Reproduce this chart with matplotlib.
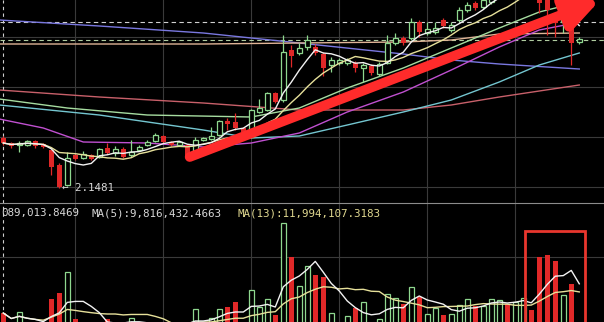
import numpy as np
import pandas as pd
import matplotlib
matplotlib.use("Agg")
import matplotlib.pyplot as plt
from matplotlib.patches import Rectangle

# candles (price), one per bar
opens = [2.65, 2.60, 2.58, 2.58, 2.62, 2.59, 2.53, 2.38, 2.18, 2.48,
         2.45, 2.48, 2.46, 2.55, 2.50, 2.54, 2.48, 2.53, 2.58, 2.62,
         2.67, 2.61, 2.58, 2.58, 2.46, 2.63, 2.64, 2.68, 2.82, 2.81,
         2.75, 2.66, 2.91, 2.93, 3.10, 3.03, 3.53, 3.50, 3.56, 3.56,
         3.49, 3.38, 3.40, 3.40, 3.40, 3.35, 3.37, 3.29, 3.40, 3.60,
         3.65, 3.65, 3.81, 3.70, 3.71, 3.83, 3.73, 3.83, 3.93, 4.00,
         3.96, 4.01, 4.09, 4.17, 4.15, 4.23, 4.29, 4.23, 4.09, 3.85,
         3.81, 3.83, 3.61]
highs = [2.67, 2.61, 2.62, 2.63, 2.63, 2.60, 2.54, 2.40, 2.51, 2.50,
         2.52, 2.49, 2.55, 2.60, 2.57, 2.56, 2.63, 2.58, 2.63, 2.70,
         2.68, 2.62, 2.62, 2.59, 2.66, 2.66, 2.76, 2.83, 2.85, 2.90,
         2.76, 2.94, 3.04, 3.11, 3.11, 3.68, 3.58, 3.60, 3.68, 3.59,
         3.51, 3.46, 3.45, 3.45, 3.42, 3.40, 3.39, 3.41, 3.68, 3.70,
         3.67, 3.85, 3.83, 3.81, 3.81, 3.85, 3.81, 3.96, 4.01, 4.02,
         4.06, 4.13, 4.20, 4.19, 4.27, 4.33, 4.31, 4.27, 4.11, 3.90,
         3.98, 3.91, 3.66]
lows = [2.58, 2.55, 2.51, 2.57, 2.55, 2.55, 2.28, 2.1481, 2.17, 2.43,
        2.44, 2.43, 2.45, 2.49, 2.47, 2.45, 2.46, 2.52, 2.57, 2.61,
        2.60, 2.57, 2.57, 2.45, 2.45, 2.62, 2.63, 2.67, 2.73, 2.73,
        2.70, 2.65, 2.90, 2.92, 3.00, 3.01, 3.36, 3.48, 3.53, 3.48,
        3.27, 3.31, 3.38, 3.38, 3.31, 3.21, 3.28, 3.27, 3.39, 3.58,
        3.58, 3.63, 3.66, 3.68, 3.69, 3.75, 3.71, 3.81, 3.91, 3.93,
        3.94, 3.99, 4.07, 4.09, 4.13, 4.21, 4.19, 3.90, 3.68, 3.66,
        3.70, 3.38, 3.59]
closes = [2.60, 2.57, 2.60, 2.62, 2.57, 2.56, 2.36, 2.16, 2.45, 2.44,
          2.49, 2.44, 2.54, 2.50, 2.54, 2.46, 2.51, 2.56, 2.61, 2.68,
          2.61, 2.58, 2.61, 2.46, 2.63, 2.65, 2.67, 2.82, 2.79, 2.75,
          2.71, 2.93, 2.95, 3.10, 3.01, 3.51, 3.47, 3.55, 3.63, 3.50,
          3.35, 3.43, 3.43, 3.43, 3.35, 3.38, 3.30, 3.39, 3.60, 3.65,
          3.60, 3.81, 3.71, 3.74, 3.75, 3.77, 3.78, 3.93, 3.98, 3.95,
          4.03, 4.11, 4.18, 4.11, 4.25, 4.31, 4.21, 4.00, 3.93, 3.80,
          3.90, 3.60, 3.64]
# volume, millions
volumes = [3.4, 1.2, 3.6, 1.2, 1.2, 1.2, 6.2, 7.4, 11.6, 2.2,
           1.2, 1.2, 1.2, 2.2, 1.2, 1.2, 2.4, 1.2, 1.2, 1.2,
           1.2, 1.2, 1.2, 1.2, 4.2, 1.2, 2.4, 4.2, 4.6, 5.6,
           1.2, 8.0, 4.6, 6.2, 3.0, 21.4, 14.6, 8.8, 12.8, 11.0,
           10.6, 3.4, 1.2, 2.8, 4.4, 5.6, 1.2, 2.2, 7.2, 6.4,
           5.2, 8.6, 6.6, 3.2, 4.4, 3.0, 3.2, 5.0, 6.2, 4.8,
           4.8, 6.2, 6.0, 5.2, 5.6, 6.4, 4.0, 14.6, 15.0, 13.8,
           7.0, 9.2, 1.2]

# longer averages, read as (bar, price) points
blue_x = [-0.5, 12, 25, 37, 50, 56, 62, 72]
blue_y = [3.83, 3.77, 3.70, 3.60, 3.49, 3.43, 3.39, 3.34]
tan_x = [-0.5, 25, 37, 50, 56, 62, 72]
tan_y = [3.59, 3.59, 3.60, 3.61, 3.63, 3.69, 3.70]
red_x = [-0.5, 12, 25, 37, 50, 56, 62, 72]
red_y = [3.13, 3.06, 3.00, 2.93, 2.93, 2.98, 3.06, 3.18]
green_x = [-0.5, 8, 18, 31, 37, 43, 50, 56, 62, 67, 72]
green_y = [3.04, 2.95, 2.88, 2.86, 2.95, 3.15, 3.35, 3.55, 3.75, 3.91, 4.01]
cyan_x = [-0.5, 12, 25, 31, 37, 43, 50, 56, 62, 67, 72]
cyan_y = [2.98, 2.88, 2.73, 2.65, 2.67, 2.78, 2.91, 3.03, 3.21, 3.38, 3.50]
pink_x = [-0.5, 5, 10, 18, 25, 31, 37, 43, 50, 56, 62, 67, 71.5]
pink_y = [2.84, 2.75, 2.61, 2.60, 2.56, 2.60, 2.70, 2.91, 3.11, 3.33, 3.56, 3.73, 3.80]

grid_bars = [9, 20, 31, 42, 53, 64]
grid_prices = [3.66, 3.16, 2.66, 2.16]

UP = "#8fd88f"
DOWN = "#e02828"

o = np.array(opens); h = np.array(highs); l = np.array(lows); c = np.array(closes)
v = np.array(volumes)
x = np.arange(len(c))
up = c >= o

fig = plt.figure(figsize=(6.04, 3.22), dpi=100, facecolor="black")
ax = fig.add_axes([0, 119 / 322, 1, 203 / 322])
vax = fig.add_axes([0, -8 / 322, 1, 127 / 322])
for a in (ax, vax):
    a.set_facecolor("black")
    a.set_xlim(-0.41, 75.09)
    a.set_xticks([]); a.set_yticks([])
    for s in a.spines.values():
        s.set_visible(False)
    for g in grid_bars:
        a.axvline(g, color="#3a3a3a", lw=0.8, zorder=0)
    a.axvline(-0.07, color="#d0d0d0", lw=0.8, ls=(0, (3, 3)), zorder=1)
vax.spines["top"].set_visible(True)
vax.spines["top"].set_color("#8c8c8c")

ax.set_ylim(2.00, 4.03)
for p in grid_prices:
    ax.axhline(p, color="#3a3a3a", lw=0.8, zorder=0)
ax.axhline(3.81, color="#d0d0d0", lw=0.8, ls=(0, (4, 3)), zorder=1)
ax.axhline(3.63, color="#b0cca0", lw=0.8, ls=(0, (4, 3)), zorder=1)

# moving averages
ax.plot(red_x, red_y, color="#c8606a", lw=1, zorder=2)
ax.plot(blue_x, blue_y, color="#7a78e0", lw=1, zorder=2)
ax.plot(tan_x, tan_y, color="#e0b496", lw=1, zorder=2)
ax.plot(green_x, green_y, color="#a6dca0", lw=1, zorder=2)
ax.plot(cyan_x, cyan_y, color="#74c6d0", lw=1, zorder=2)
ax.plot(pink_x, pink_y, color="#c050d0", lw=1, zorder=2)
ma5 = pd.Series(c).rolling(5, min_periods=1).mean()
ma10 = pd.Series(c).rolling(10, min_periods=1).mean()
ax.plot(x, ma10, color="#e6e09a", lw=1, zorder=5)
ax.plot(x, ma5, color="#f2f2f2", lw=1, zorder=5)

# candles
ax.vlines(x, l, h, colors=np.where(up, UP, DOWN), lw=0.9, zorder=3)
body = np.maximum(np.abs(c - o), 0.012)
low_body = np.minimum(o, c)
ax.bar(x[up], body[up], bottom=low_body[up], width=0.6, facecolor="black",
       edgecolor=UP, lw=0.9, zorder=4)
ax.bar(x[~up], body[~up], bottom=low_body[~up], width=0.6, color=DOWN, lw=0, zorder=4)

imin = int(np.argmin(l))
ax.text(imin + 0.35, l[imin], f"\u2190 {l[imin]:.4f}", color="#d8d8d8",
        fontsize=7.8, family="DejaVu Sans Mono", va="center", ha="left", zorder=6)

ax.annotate("", xy=(74.6, 4.03), xytext=(23.3, 2.46),
            arrowprops=dict(arrowstyle="-|>,head_length=2.0,head_width=1.0",
                            color="#ff2b2b", lw=7, shrinkA=0, shrinkB=0),
            zorder=7)

# volume panel
vax.set_ylim(0, 25.4)
vax.axhline(14.6, color="#3a3a3a", lw=0.8, zorder=0)
vax.bar(x[up], v[up], width=0.6, facecolor="black", edgecolor=UP, lw=0.9, zorder=3)
vax.bar(x[~up], v[~up], width=0.6, color=DOWN, lw=0, zorder=3)
vma5 = pd.Series(v).rolling(5, min_periods=1).mean()
vma13 = pd.Series(v).rolling(13, min_periods=1).mean()
vax.plot(x, vma13, color="#e6e09a", lw=1, zorder=4)
vax.plot(x, vma5, color="#f2f2f2", lw=1, zorder=4)
vax.add_patch(Rectangle((65.2, -2), 7.5, 21.8, fill=False, ec="#e8362e", lw=2, zorder=5))

ty = 1 - 213 / 322
fig.text(1 / 604, ty, "089,013.8469", color="#d8d8d8", fontsize=7.8,
         family="DejaVu Sans Mono", va="center")
fig.text(91 / 604, ty, "MA(5):9,816,432.4663", color="#d8d8d8", fontsize=7.8,
         family="DejaVu Sans Mono", va="center")
fig.text(237 / 604, ty, "MA(13):11,994,107.3183", color="#e0d890", fontsize=7.8,
         family="DejaVu Sans Mono", va="center")

fig.savefig("out.png", dpi=100, facecolor="black")
